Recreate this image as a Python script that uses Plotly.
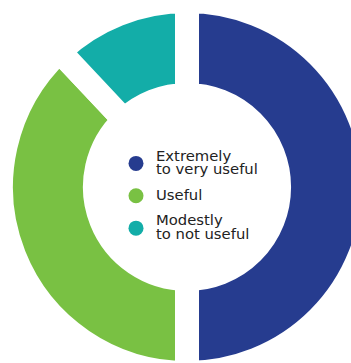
import plotly.graph_objects as go

categories = ["Extremely<br>to very useful", "Useful", "Modestly<br>to not useful"]
values = [50, 38, 12]
colors = ["#263C8F", "#79C143", "#13ADA8"]

fig = go.Figure()
fig.add_trace(go.Pie(
    labels=categories, values=values, sort=False, direction="clockwise", rotation=0,
    hole=0.495, marker=dict(colors=colors, line=dict(color="white", width=24)),
    textinfo="none", hoverinfo="skip", showlegend=False,
    domain=dict(x=[0, 1], y=[0, 1]),
))
for i, (name, col) in enumerate(zip(categories, colors)):
    label = "<br>".join('<span style="font-size:14.8px">%s</span>' % p for p in name.split("<br>"))
    fig.add_trace(go.Scatter(x=[None], y=[None], mode="markers", name=label,
                             legendgroup="g%d" % i,
                             marker=dict(color=col, size=15, symbol="circle")))

fig.update_layout(
    width=374, height=374,
    margin=dict(l=0, r=0, t=1, b=1),
    paper_bgcolor="white", plot_bgcolor="white",
    xaxis=dict(visible=False), yaxis=dict(visible=False),
    showlegend=True,
    legend=dict(x=116/374, y=1-(196-1)/372, xanchor="left", yanchor="middle",
                font=dict(family="DejaVu Sans", size=10.3, color="#222222"),
                tracegroupgap=8, bgcolor="rgba(0,0,0,0)"),
)
fig.write_html("out.html", config={"displayModeBar": False},
               post_script="document.body.style.margin='0';document.body.style.overflow='hidden';document.documentElement.style.overflow='hidden';")
